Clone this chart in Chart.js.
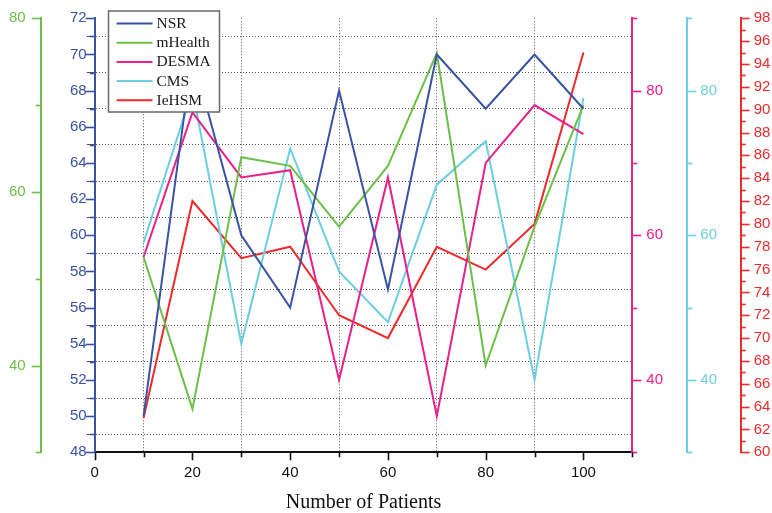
<!DOCTYPE html>
<html>
<head>
<meta charset="utf-8">
<script src="https://cdn.jsdelivr.net/npm/chart.js@4/dist/chart.umd.min.js"></script>
<style>
  html, body { margin: 0; padding: 0; background: #ffffff; }
  #wrap { width: 772px; height: 513px; }
</style>
</head>
<body>
<div id="wrap"><canvas id="c" width="772" height="513"></canvas></div>
<script>
// ---- data ----
const patients = [10, 20, 30, 40, 50, 60, 70, 80, 90, 100];
const nsrValues = [50, 70, 60, 56, 68, 57, 70, 67, 70, 67];
const mhealthValues = [52.5, 35, 64, 63, 56, 63, 76, 40, 56, 70];
const desmaValues = [57, 77, 68, 69, 40, 68, 35, 70, 78, 74];
const cmsValues = [59, 80, 45, 72, 55, 48, 67, 73, 40, 79];
const iehsmValues = [63, 82, 77, 78, 72, 70, 78, 76, 80, 95];
const seriesNames = ['NSR', 'mHealth', 'DESMA', 'CMS', 'IeHSM'];
const xTitle = 'Number of Patients';

const colNSR = '#3953a4';
const colMH = '#6cbf47';
const colDE = '#ea1f8a';
const colCMS = '#6ccfe0';
const colIE = '#ee2b2b';

const toPts = (vals) => patients.map((x, i) => ({x: x, y: vals[i]}));

const sansFont = (size) => ({family: "'Liberation Sans', Arial, sans-serif", size: size});

// label offset from the axis line is produced by an invisible tick of given length
function yAxis(opts, offset) {
  const base = {
    type: 'linear',
    weight: 0,
    grid: { display: true, drawOnChartArea: false, drawTicks: true, tickLength: offset, tickColor: 'rgba(0,0,0,0)' },
    border: { display: true, width: 2 },
  };
  const o = Object.assign(base, opts);
  o.grid = Object.assign({}, base.grid, opts.grid || {});
  return o;
}

const tickCfg = {
  yNSR: { color: colNSR, major: v => v % 2 === 0 },
  yMH: { color: colMH, major: v => v % 20 === 0 },
  yDE: { color: colDE, major: v => v % 20 === 0 },
  yCMS: { color: colCMS, major: v => v % 20 === 0 },
  yIE: { color: colIE, major: v => v % 2 === 0 },
};

const tickMarks = {
  id: 'tickMarks',
  afterDraw(chart) {
    const ctx = chart.ctx;
    ctx.save();
    ctx.lineWidth = 1.6;
    Object.keys(tickCfg).forEach(id => {
      const s = chart.scales[id];
      const cfg = tickCfg[id];
      ctx.strokeStyle = cfg.color;
      const isLeft = s.position === 'left';
      const ax = isLeft ? s.right : s.left;
      s.ticks.forEach(t => {
        const y = Math.round(s.getPixelForValue(t.value)) + 0.5;
        const len = cfg.major(t.value) ? 9 : 5;
        ctx.beginPath();
        ctx.moveTo(ax, y);
        ctx.lineTo(isLeft ? ax - len : ax + len, y);
        ctx.stroke();
      });
    });
    const xs = chart.scales.x;
    ctx.strokeStyle = '#111';
    xs.ticks.forEach(t => {
      const x = Math.round(xs.getPixelForValue(t.value)) + 0.5;
      const len = t.value % 20 === 0 ? 8 : 5;
      ctx.beginPath();
      ctx.moveTo(x, xs.top);
      ctx.lineTo(x, xs.top + len);
      ctx.stroke();
    });
    ctx.restore();
  }
};

const boxLegend = {
  id: 'boxLegend',
  afterDatasetsDraw(chart) {
    const ctx = chart.ctx;
    ctx.save();
    const bx = 108.5, by = 11, bw = 111, bh = 101;
    ctx.fillStyle = '#ffffff';
    ctx.fillRect(bx, by, bw, bh);
    ctx.strokeStyle = '#6a6a6a';
    ctx.lineWidth = 1.5;
    ctx.strokeRect(bx, by, bw, bh);
    ctx.font = "15.5px 'Liberation Serif', 'Times New Roman', serif";
    ctx.textBaseline = 'middle';
    ctx.textAlign = 'left';
    chart.data.datasets.forEach((ds, i) => {
      const y = 23.5 + i * 19.2;
      ctx.strokeStyle = ds.borderColor;
      ctx.lineWidth = 2;
      ctx.beginPath();
      ctx.moveTo(116.5, y);
      ctx.lineTo(152.5, y);
      ctx.stroke();
      ctx.fillStyle = '#1a1a1a';
      ctx.fillText(ds.label, 156.5, y + 0.5);
    });
    ctx.restore();
  }
};

const mkDs = (label, vals, color, axis) => ({
  label: label,
  data: toPts(vals),
  borderColor: color,
  backgroundColor: color,
  borderWidth: 2,
  pointRadius: 0,
  tension: 0,
  fill: false,
  yAxisID: axis,
});

new Chart(document.getElementById('c'), {
  type: 'line',
  data: {
    datasets: [
      mkDs(seriesNames[0], nsrValues, colNSR, 'yNSR'),
      mkDs(seriesNames[1], mhealthValues, colMH, 'yMH'),
      mkDs(seriesNames[2], desmaValues, colDE, 'yDE'),
      mkDs(seriesNames[3], cmsValues, colCMS, 'yCMS'),
      mkDs(seriesNames[4], iehsmValues, colIE, 'yIE'),
    ]
  },
  options: {
    responsive: false,
    animation: false,
    layout: { padding: { top: 18.3, left: 0, right: 0, bottom: 0 } },
    plugins: { legend: { display: false }, tooltip: { enabled: false } },
    scales: {
      x: {
        type: 'linear',
        position: 'bottom',
        min: 0, max: 110,
        afterFit: s => { s.height = 60.7; },
        ticks: {
          stepSize: 10, autoSkip: false, maxRotation: 0, padding: 12,
          color: '#111', font: sansFont(15),
          callback: v => (v % 20 === 0 && v <= 100) ? String(v) : ''
        },
        grid: {
          drawTicks: false, lineWidth: 1,
          color: c => (c.tick && c.tick.value % 20 === 10 && c.tick.value < 110) ? '#555' : 'rgba(0,0,0,0)'
        },
        border: { display: true, color: '#111', width: 2, dash: [1, 2] },
        title: {
          display: true, text: xTitle, color: '#111',
          font: { family: "'Liberation Serif', 'Times New Roman', serif", size: 20, lineHeight: 1 },
          padding: { top: 0, bottom: 0 }
        }
      },
      yNSR: yAxis({
        position: 'left', weight: 0, min: 48, max: 72,
        afterFit: s => { s.width = 54; },
        ticks: { stepSize: 1, autoSkip: false, padding: 0, color: colNSR, font: sansFont(15),
          callback: v => v % 2 === 0 ? String(v) : '' },
        grid: { drawOnChartArea: true, lineWidth: 1,
          color: c => (c.tick && Math.abs(c.tick.value % 2) === 1) ? '#555' : 'rgba(0,0,0,0)' },
        border: { display: true, color: colNSR, width: 2, dash: [1, 2] },
      }, 15),
      yMH: yAxis({
        position: 'left', weight: 1, min: 30, max: 80,
        afterFit: s => { s.width = 40.7; },
        ticks: { stepSize: 10, autoSkip: false, padding: 0, color: colMH, font: sansFont(15),
          callback: v => v % 20 === 0 ? String(v) : '' },
        border: { display: true, color: colMH, width: 2 },
      }, 15),
      yDE: yAxis({
        position: 'right', weight: 0, min: 30, max: 90,
        afterFit: s => { s.width = 55; },
        ticks: { stepSize: 10, autoSkip: false, padding: 0, color: colDE, font: sansFont(15),
          callback: v => v % 20 === 0 ? String(v) : '' },
        border: { display: true, color: colDE, width: 2 },
      }, 14),
      yCMS: yAxis({
        position: 'right', weight: 1, min: 30, max: 90,
        afterFit: s => { s.width = 53.4; },
        ticks: { stepSize: 10, autoSkip: false, padding: 0, color: colCMS, font: sansFont(15),
          callback: v => v % 20 === 0 ? String(v) : '' },
        border: { display: true, color: colCMS, width: 2 },
      }, 13),
      yIE: yAxis({
        position: 'right', weight: 2, min: 60, max: 98,
        afterFit: s => { s.width = 31.3; },
        ticks: { stepSize: 1, autoSkip: false, padding: 0, color: colIE, font: sansFont(15),
          callback: v => v % 2 === 0 ? String(v) : '' },
        border: { display: true, color: colIE, width: 2 },
      }, 13),
    }
  },
  plugins: [tickMarks, boxLegend]
});
</script>
</body>
</html>
